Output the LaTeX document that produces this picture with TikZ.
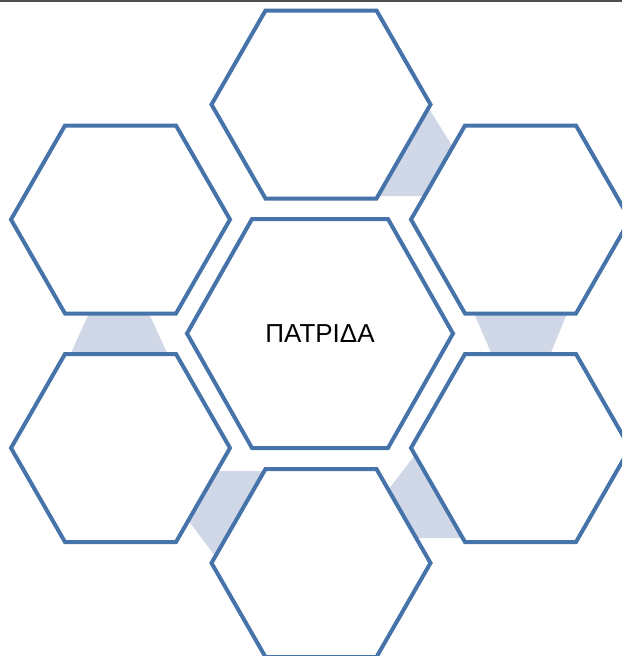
\documentclass[tikz,border=0pt]{standalone}
\usepackage{fontspec}
\setmainfont{Liberation Sans}
\definecolor{hexblue}{RGB}{70,116,170}
\definecolor{shade}{RGB}{208,216,231}
\definecolor{topline}{RGB}{80,80,80}
\newcommand{\myhex}[6]{% name, cx, cy, R, a, h
  \draw[hexline] (#2-#4,#3) coordinate (#1-l) -- (#2-#5,#3-#6) -- (#2+#5,#3-#6) -- (#2+#4,#3) -- (#2+#5,#3+#6) -- (#2-#5,#3+#6) -- cycle;
  \coordinate (#1) at (#2,#3);}
\begin{document}
\begin{tikzpicture}[x=1pt,y=-1pt,
  hexline/.style={draw=hexblue,line width=4pt,fill=white,line join=miter},
  gapshade/.style={fill=shade,draw=none},
  label/.style={font=\fontsize{26}{30}\selectfont,text=black,inner sep=0pt}]
\useasboundingbox (0,0) rectangle (622,656);
\clip (0,0) rectangle (622,656);
% light connecting shapes between the outer hexagons
\fill[gapshade] (428.5,108) -- (452.9,147) -- (424.6,196) -- (377.7,196) -- cycle;
\fill[gapshade] (473,311) -- (568,311) -- (550,355) -- (492,355) -- cycle;
\fill[gapshade] (90,311) -- (148,311) -- (168,355) -- (70,355) -- cycle;
\fill[gapshade] (216,471) -- (265,471) -- (215,556) -- (188,520) -- cycle;
\fill[gapshade] (415,455) -- (388,490) -- (416,538) -- (463,538) -- cycle;
% hexagons
\myhex{top}{321}{104.5}{109.5}{55.5}{94}
\myhex{tl}{120.5}{219.5}{109.5}{55.5}{94}
\myhex{tr}{520.5}{219.5}{109.5}{55.5}{94}
\myhex{bl}{120.5}{448}{109.5}{55.5}{94}
\myhex{br}{520.5}{448}{109.5}{55.5}{94}
\myhex{bot}{321}{563}{109.5}{55.5}{94}
\myhex{ctr}{320}{333.5}{133}{68}{114.5}
\node[label] (title) at (ctr) {ΠΑΤΡΙΔΑ};
% window border at the top
\draw[topline,line width=1.8pt] (0,0.9) -- (622,0.9);
\end{tikzpicture}
\end{document}
